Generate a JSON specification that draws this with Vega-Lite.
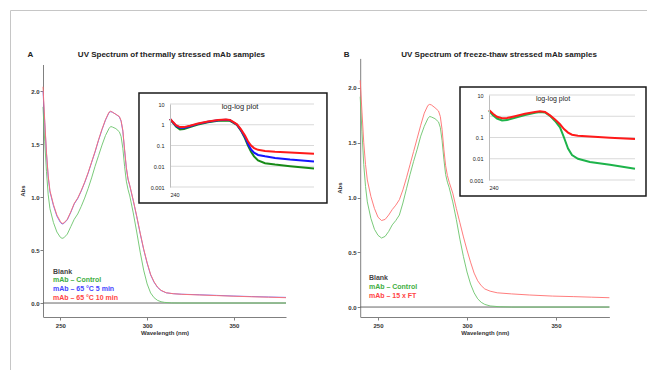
{
"$schema":"https://vega.github.io/schema/vega-lite/v6.json",
"width":637,"height":360,
"autosize":{"type":"none"},
"padding":{"left":10,"top":10,"right":0,"bottom":0},
"background":"white",
"config":{"view":{"stroke":"#c6c6c6","strokeWidth":1},"font":"Liberation Sans"},
"datasets":{
"mainA":[
{"s":"Blank","w":240,"a":0},{"s":"Blank","w":380,"a":0},
{"s":"Control","w":240,"a":1.85},{"s":"Control","w":241,"a":1.52},{"s":"Control","w":242,"a":1.24},{"s":"Control","w":243,"a":1.02},{"s":"Control","w":244,"a":0.89},{"s":"Control","w":246,"a":0.76},{"s":"Control","w":248,"a":0.67},{"s":"Control","w":250,"a":0.62},{"s":"Control","w":251,"a":0.61},{"s":"Control","w":252,"a":0.615},{"s":"Control","w":254,"a":0.65},{"s":"Control","w":256,"a":0.72},{"s":"Control","w":258,"a":0.79},{"s":"Control","w":260,"a":0.84},{"s":"Control","w":262,"a":0.91},{"s":"Control","w":264,"a":0.99},{"s":"Control","w":266,"a":1.08},{"s":"Control","w":268,"a":1.18},{"s":"Control","w":270,"a":1.29},{"s":"Control","w":272,"a":1.39},{"s":"Control","w":274,"a":1.49},{"s":"Control","w":276,"a":1.58},{"s":"Control","w":278,"a":1.645},{"s":"Control","w":279,"a":1.665},{"s":"Control","w":280,"a":1.66},{"s":"Control","w":282,"a":1.645},{"s":"Control","w":284,"a":1.615},{"s":"Control","w":285,"a":1.57},{"s":"Control","w":286,"a":1.46},{"s":"Control","w":287,"a":1.29},{"s":"Control","w":288,"a":1.15},{"s":"Control","w":289,"a":1.07},{"s":"Control","w":290,"a":1.01},{"s":"Control","w":292,"a":0.85},{"s":"Control","w":294,"a":0.67},{"s":"Control","w":296,"a":0.48},{"s":"Control","w":298,"a":0.31},{"s":"Control","w":300,"a":0.18},{"s":"Control","w":302,"a":0.095},{"s":"Control","w":304,"a":0.05},{"s":"Control","w":306,"a":0.025},{"s":"Control","w":308,"a":0.012},{"s":"Control","w":310,"a":0.006},{"s":"Control","w":314,"a":0.001},{"s":"Control","w":320,"a":0},{"s":"Control","w":380,"a":0},
{"s":"5min","w":240,"a":2.0},{"s":"5min","w":241,"a":1.7},{"s":"5min","w":242,"a":1.41},{"s":"5min","w":243,"a":1.19},{"s":"5min","w":244,"a":1.05},{"s":"5min","w":246,"a":0.92},{"s":"5min","w":248,"a":0.82},{"s":"5min","w":250,"a":0.76},{"s":"5min","w":251,"a":0.745},{"s":"5min","w":252,"a":0.75},{"s":"5min","w":254,"a":0.785},{"s":"5min","w":256,"a":0.855},{"s":"5min","w":258,"a":0.935},{"s":"5min","w":260,"a":0.985},{"s":"5min","w":262,"a":1.055},{"s":"5min","w":264,"a":1.135},{"s":"5min","w":266,"a":1.225},{"s":"5min","w":268,"a":1.325},{"s":"5min","w":270,"a":1.425},{"s":"5min","w":272,"a":1.535},{"s":"5min","w":274,"a":1.635},{"s":"5min","w":276,"a":1.725},{"s":"5min","w":278,"a":1.795},{"s":"5min","w":279,"a":1.805},{"s":"5min","w":280,"a":1.8},{"s":"5min","w":282,"a":1.78},{"s":"5min","w":284,"a":1.755},{"s":"5min","w":285,"a":1.715},{"s":"5min","w":286,"a":1.62},{"s":"5min","w":287,"a":1.44},{"s":"5min","w":288,"a":1.275},{"s":"5min","w":289,"a":1.165},{"s":"5min","w":290,"a":1.105},{"s":"5min","w":292,"a":0.965},{"s":"5min","w":294,"a":0.815},{"s":"5min","w":296,"a":0.655},{"s":"5min","w":298,"a":0.505},{"s":"5min","w":300,"a":0.375},{"s":"5min","w":302,"a":0.265},{"s":"5min","w":304,"a":0.195},{"s":"5min","w":306,"a":0.147},{"s":"5min","w":308,"a":0.118},{"s":"5min","w":311,"a":0.096},{"s":"5min","w":315,"a":0.088},{"s":"5min","w":320,"a":0.083},{"s":"5min","w":330,"a":0.078},{"s":"5min","w":340,"a":0.072},{"s":"5min","w":350,"a":0.066},{"s":"5min","w":360,"a":0.061},{"s":"5min","w":370,"a":0.057},{"s":"5min","w":380,"a":0.053},
{"s":"10min","w":240,"a":2.04},{"s":"10min","w":241,"a":1.72},{"s":"10min","w":242,"a":1.42},{"s":"10min","w":243,"a":1.2},{"s":"10min","w":244,"a":1.06},{"s":"10min","w":246,"a":0.93},{"s":"10min","w":248,"a":0.83},{"s":"10min","w":250,"a":0.77},{"s":"10min","w":251,"a":0.75},{"s":"10min","w":252,"a":0.755},{"s":"10min","w":254,"a":0.79},{"s":"10min","w":256,"a":0.86},{"s":"10min","w":258,"a":0.94},{"s":"10min","w":260,"a":0.99},{"s":"10min","w":262,"a":1.06},{"s":"10min","w":264,"a":1.14},{"s":"10min","w":266,"a":1.23},{"s":"10min","w":268,"a":1.33},{"s":"10min","w":270,"a":1.43},{"s":"10min","w":272,"a":1.54},{"s":"10min","w":274,"a":1.64},{"s":"10min","w":276,"a":1.73},{"s":"10min","w":278,"a":1.8},{"s":"10min","w":279,"a":1.81},{"s":"10min","w":280,"a":1.8},{"s":"10min","w":282,"a":1.78},{"s":"10min","w":284,"a":1.76},{"s":"10min","w":285,"a":1.72},{"s":"10min","w":286,"a":1.63},{"s":"10min","w":287,"a":1.45},{"s":"10min","w":288,"a":1.28},{"s":"10min","w":289,"a":1.17},{"s":"10min","w":290,"a":1.11},{"s":"10min","w":292,"a":0.97},{"s":"10min","w":294,"a":0.82},{"s":"10min","w":296,"a":0.66},{"s":"10min","w":298,"a":0.51},{"s":"10min","w":300,"a":0.38},{"s":"10min","w":302,"a":0.27},{"s":"10min","w":304,"a":0.2},{"s":"10min","w":306,"a":0.15},{"s":"10min","w":308,"a":0.12},{"s":"10min","w":311,"a":0.097},{"s":"10min","w":315,"a":0.088},{"s":"10min","w":320,"a":0.082},{"s":"10min","w":330,"a":0.076},{"s":"10min","w":340,"a":0.07},{"s":"10min","w":350,"a":0.064},{"s":"10min","w":360,"a":0.059},{"s":"10min","w":370,"a":0.055},{"s":"10min","w":380,"a":0.05}
],
"mainB":[
{"s":"Blank","w":240,"a":0},{"s":"Blank","w":380,"a":0},
{"s":"Control","w":240,"a":1.92},{"s":"Control","w":241,"a":1.6},{"s":"Control","w":242,"a":1.3},{"s":"Control","w":243,"a":1.1},{"s":"Control","w":244,"a":0.96},{"s":"Control","w":246,"a":0.81},{"s":"Control","w":248,"a":0.71},{"s":"Control","w":250,"a":0.655},{"s":"Control","w":252,"a":0.63},{"s":"Control","w":254,"a":0.645},{"s":"Control","w":256,"a":0.69},{"s":"Control","w":258,"a":0.75},{"s":"Control","w":260,"a":0.79},{"s":"Control","w":262,"a":0.84},{"s":"Control","w":264,"a":0.95},{"s":"Control","w":266,"a":1.08},{"s":"Control","w":268,"a":1.21},{"s":"Control","w":270,"a":1.33},{"s":"Control","w":272,"a":1.44},{"s":"Control","w":274,"a":1.56},{"s":"Control","w":276,"a":1.65},{"s":"Control","w":278,"a":1.72},{"s":"Control","w":279,"a":1.74},{"s":"Control","w":280,"a":1.735},{"s":"Control","w":282,"a":1.72},{"s":"Control","w":284,"a":1.69},{"s":"Control","w":285,"a":1.64},{"s":"Control","w":286,"a":1.52},{"s":"Control","w":287,"a":1.35},{"s":"Control","w":288,"a":1.21},{"s":"Control","w":289,"a":1.14},{"s":"Control","w":290,"a":1.09},{"s":"Control","w":292,"a":0.96},{"s":"Control","w":294,"a":0.8},{"s":"Control","w":296,"a":0.62},{"s":"Control","w":298,"a":0.46},{"s":"Control","w":300,"a":0.32},{"s":"Control","w":302,"a":0.21},{"s":"Control","w":304,"a":0.13},{"s":"Control","w":306,"a":0.075},{"s":"Control","w":308,"a":0.043},{"s":"Control","w":310,"a":0.024},{"s":"Control","w":313,"a":0.01},{"s":"Control","w":318,"a":0.003},{"s":"Control","w":325,"a":0},{"s":"Control","w":380,"a":0},
{"s":"FT","w":240,"a":2.07},{"s":"FT","w":241,"a":1.78},{"s":"FT","w":242,"a":1.5},{"s":"FT","w":243,"a":1.3},{"s":"FT","w":244,"a":1.16},{"s":"FT","w":246,"a":1.01},{"s":"FT","w":248,"a":0.9},{"s":"FT","w":250,"a":0.82},{"s":"FT","w":252,"a":0.79},{"s":"FT","w":254,"a":0.8},{"s":"FT","w":256,"a":0.84},{"s":"FT","w":258,"a":0.89},{"s":"FT","w":260,"a":0.93},{"s":"FT","w":262,"a":0.98},{"s":"FT","w":264,"a":1.07},{"s":"FT","w":266,"a":1.18},{"s":"FT","w":268,"a":1.3},{"s":"FT","w":270,"a":1.42},{"s":"FT","w":272,"a":1.54},{"s":"FT","w":274,"a":1.66},{"s":"FT","w":276,"a":1.77},{"s":"FT","w":278,"a":1.84},{"s":"FT","w":279,"a":1.85},{"s":"FT","w":280,"a":1.845},{"s":"FT","w":282,"a":1.82},{"s":"FT","w":284,"a":1.79},{"s":"FT","w":285,"a":1.74},{"s":"FT","w":286,"a":1.62},{"s":"FT","w":287,"a":1.44},{"s":"FT","w":288,"a":1.29},{"s":"FT","w":289,"a":1.2},{"s":"FT","w":290,"a":1.14},{"s":"FT","w":292,"a":1.04},{"s":"FT","w":294,"a":0.9},{"s":"FT","w":296,"a":0.77},{"s":"FT","w":298,"a":0.64},{"s":"FT","w":300,"a":0.52},{"s":"FT","w":302,"a":0.41},{"s":"FT","w":304,"a":0.31},{"s":"FT","w":306,"a":0.24},{"s":"FT","w":308,"a":0.195},{"s":"FT","w":310,"a":0.165},{"s":"FT","w":313,"a":0.145},{"s":"FT","w":317,"a":0.13},{"s":"FT","w":325,"a":0.12},{"s":"FT","w":335,"a":0.11},{"s":"FT","w":348,"a":0.1},{"s":"FT","w":360,"a":0.095},{"s":"FT","w":370,"a":0.09},{"s":"FT","w":380,"a":0.085}
],
"insetA":[
{"s":"Control","w":240,"a":1.85},{"s":"Control","w":242.9,"a":1.25},{"s":"Control","w":245.8,"a":0.82},{"s":"Control","w":249.7,"a":0.6},{"s":"Control","w":253.6,"a":0.62},{"s":"Control","w":259.4,"a":0.78},{"s":"Control","w":267.2,"a":1.02},{"s":"Control","w":276.9,"a":1.3},{"s":"Control","w":286.7,"a":1.55},{"s":"Control","w":294.4,"a":1.62},{"s":"Control","w":298.3,"a":1.55},{"s":"Control","w":302.2,"a":1.2},{"s":"Control","w":305.1,"a":0.98},{"s":"Control","w":309,"a":0.52},{"s":"Control","w":312.9,"a":0.22},{"s":"Control","w":315.8,"a":0.1},{"s":"Control","w":318.8,"a":0.05},{"s":"Control","w":321.7,"a":0.03},{"s":"Control","w":325.6,"a":0.019},{"s":"Control","w":332.4,"a":0.014},{"s":"Control","w":342.1,"a":0.012},{"s":"Control","w":356.7,"a":0.01},{"s":"Control","w":380,"a":0.0078},
{"s":"5min","w":240,"a":1.92},{"s":"5min","w":242.9,"a":1.3},{"s":"5min","w":245.8,"a":0.9},{"s":"5min","w":249.7,"a":0.72},{"s":"5min","w":253.6,"a":0.72},{"s":"5min","w":259.4,"a":0.85},{"s":"5min","w":267.2,"a":1.1},{"s":"5min","w":276.9,"a":1.4},{"s":"5min","w":286.7,"a":1.65},{"s":"5min","w":294.4,"a":1.75},{"s":"5min","w":298.3,"a":1.65},{"s":"5min","w":302.2,"a":1.25},{"s":"5min","w":305.1,"a":1.0},{"s":"5min","w":309,"a":0.55},{"s":"5min","w":312.9,"a":0.26},{"s":"5min","w":315.8,"a":0.12},{"s":"5min","w":318.8,"a":0.065},{"s":"5min","w":321.7,"a":0.045},{"s":"5min","w":325.6,"a":0.035},{"s":"5min","w":332.4,"a":0.03},{"s":"5min","w":342.1,"a":0.025},{"s":"5min","w":356.7,"a":0.021},{"s":"5min","w":380,"a":0.017},
{"s":"10min","w":240,"a":1.95},{"s":"10min","w":242.9,"a":1.35},{"s":"10min","w":245.8,"a":0.95},{"s":"10min","w":249.7,"a":0.77},{"s":"10min","w":253.6,"a":0.77},{"s":"10min","w":259.4,"a":0.9},{"s":"10min","w":267.2,"a":1.15},{"s":"10min","w":276.9,"a":1.45},{"s":"10min","w":286.7,"a":1.7},{"s":"10min","w":294.4,"a":1.8},{"s":"10min","w":298.3,"a":1.7},{"s":"10min","w":302.2,"a":1.3},{"s":"10min","w":305.1,"a":1.05},{"s":"10min","w":309,"a":0.6},{"s":"10min","w":312.9,"a":0.3},{"s":"10min","w":315.8,"a":0.16},{"s":"10min","w":318.8,"a":0.1},{"s":"10min","w":321.7,"a":0.075},{"s":"10min","w":325.6,"a":0.062},{"s":"10min","w":332.4,"a":0.055},{"s":"10min","w":342.1,"a":0.05},{"s":"10min","w":356.7,"a":0.046},{"s":"10min","w":380,"a":0.04}
],
"insetB":[
{"s":"Control","w":240,"a":1.8},{"s":"Control","w":243.8,"a":1.1},{"s":"Control","w":247.7,"a":0.78},{"s":"Control","w":252.5,"a":0.63},{"s":"Control","w":257.3,"a":0.66},{"s":"Control","w":264.9,"a":0.85},{"s":"Control","w":274.5,"a":1.15},{"s":"Control","w":284.1,"a":1.45},{"s":"Control","w":288.9,"a":1.58},{"s":"Control","w":293.7,"a":1.5},{"s":"Control","w":298.5,"a":1.05},{"s":"Control","w":303.3,"a":0.6},{"s":"Control","w":308.1,"a":0.3},{"s":"Control","w":311.9,"a":0.1},{"s":"Control","w":315.8,"a":0.03},{"s":"Control","w":319.6,"a":0.015},{"s":"Control","w":325.3,"a":0.01},{"s":"Control","w":336.8,"a":0.007},{"s":"Control","w":356,"a":0.0052},{"s":"Control","w":380,"a":0.0034},
{"s":"FT","w":240,"a":2.0},{"s":"FT","w":243.8,"a":1.3},{"s":"FT","w":247.7,"a":0.95},{"s":"FT","w":252.5,"a":0.8},{"s":"FT","w":257.3,"a":0.82},{"s":"FT","w":264.9,"a":1.0},{"s":"FT","w":274.5,"a":1.3},{"s":"FT","w":284.1,"a":1.6},{"s":"FT","w":288.9,"a":1.72},{"s":"FT","w":293.7,"a":1.6},{"s":"FT","w":298.5,"a":1.1},{"s":"FT","w":303.3,"a":0.7},{"s":"FT","w":308.1,"a":0.42},{"s":"FT","w":311.9,"a":0.25},{"s":"FT","w":315.8,"a":0.17},{"s":"FT","w":319.6,"a":0.135},{"s":"FT","w":325.3,"a":0.12},{"s":"FT","w":336.8,"a":0.11},{"s":"FT","w":356,"a":0.097},{"s":"FT","w":380,"a":0.086}
],
"grid":[{"g":10},{"g":1},{"g":0.1},{"g":0.01},{"g":0.001}]
},
"resolve":{"scale":{"x":"independent","y":"independent","color":"independent"},"axis":{"x":"independent","y":"independent"}},
"layer":[
{"layer":[
 {"data":{"name":"mainA"},"mark":{"type":"line","strokeWidth":1,"strokeOpacity":0.9},
  "encoding":{
   "x":{"field":"w","type":"quantitative","scale":{"domain":[240,380],"range":[33,276],"nice":false,"zero":false},
        "axis":{"orient":"bottom","offset":-53,"values":[250,300,350],"title":"Wavelength (nm)","grid":false,"domainColor":"#808080","tickColor":"#808080","tickSize":3,"labelFontSize":6,"labelFontWeight":"bold","labelColor":"#333","labelPadding":2,"titleFontSize":6,"titleFontWeight":"bold","titleColor":"#333","titlePadding":1}},
   "y":{"field":"a","type":"quantitative","scale":{"domain":[-0.13,2.25],"range":[306.8,54.5],"nice":false,"zero":false},
        "axis":{"orient":"left","offset":-33,"values":[0,0.5,1,1.5,2],"format":".1f","title":"Abs","grid":false,"domainColor":"#808080","tickColor":"#808080","tickSize":3,"labelFontSize":6,"labelFontWeight":"bold","labelColor":"#333","labelPadding":1,"titleFontSize":6,"titleFontWeight":"bold","titleColor":"#333","titlePadding":5}},
   "color":{"field":"s","type":"nominal","scale":{"domain":["Blank","Control","5min","10min"],"range":["#555555","#6cc46c","#6a6aff","#ff6f6f"]},"legend":null}}},
 {"data":{"values":[{}]},"mark":{"type":"rect","fill":"white","stroke":"#1a1a1a","strokeWidth":1.5},
  "encoding":{"x":{"datum":295.3,"type":"quantitative"},"x2":{"datum":403.6},"y":{"datum":1.981,"type":"quantitative"},"y2":{"datum":0.943}}},
 {"data":{"values":[{}]},"mark":{"type":"text","align":"left","baseline":"middle","fontSize":7,"fontWeight":"bold","color":"#444444"},
  "encoding":{"x":{"datum":245.76,"type":"quantitative"},"y":{"datum":0.295,"type":"quantitative"},"text":{"value":"Blank"}}},
 {"data":{"values":[{}]},"mark":{"type":"text","align":"left","baseline":"middle","fontSize":7,"fontWeight":"bold","color":"#3fae3f"},
  "encoding":{"x":{"datum":245.76,"type":"quantitative"},"y":{"datum":0.214,"type":"quantitative"},"text":{"value":"mAb – Control"}}},
 {"data":{"values":[{}]},"mark":{"type":"text","align":"left","baseline":"middle","fontSize":7,"fontWeight":"bold","color":"#4747ff"},
  "encoding":{"x":{"datum":245.76,"type":"quantitative"},"y":{"datum":0.132,"type":"quantitative"},"text":{"value":"mAb – 65 °C 5 min"}}},
 {"data":{"values":[{}]},"mark":{"type":"text","align":"left","baseline":"middle","fontSize":7,"fontWeight":"bold","color":"#ff4545"},
  "encoding":{"x":{"datum":245.76,"type":"quantitative"},"y":{"datum":0.05,"type":"quantitative"},"text":{"value":"mAb – 65 °C 10 min"}}},
 {"data":{"values":[{}]},"mark":{"type":"text","align":"center","baseline":"middle","fontSize":8,"fontWeight":"bold","color":"#222222"},
  "encoding":{"x":{"datum":232.8,"type":"quantitative"},"y":{"datum":2.34,"type":"quantitative"},"text":{"value":"A"}}},
 {"data":{"values":[{}]},"mark":{"type":"text","align":"center","baseline":"middle","fontSize":8,"fontWeight":"bold","color":"#222222"},
  "encoding":{"x":{"datum":314.0,"type":"quantitative"},"y":{"datum":2.34,"type":"quantitative"},"text":{"value":"UV Spectrum of thermally stressed mAb samples"}}}
]},
{"layer":[
 {"data":{"name":"grid"},"mark":{"type":"rule","color":"#d9d9d9","strokeWidth":1},
  "encoding":{"x":{"datum":240,"type":"quantitative","scale":{"domain":[240,380],"range":[160,304],"nice":false,"zero":false}},"x2":{"datum":380},"y":{"field":"g","type":"quantitative","scale":{"type":"log","domain":[0.001,10],"range":[177,94],"nice":false}}}},
 {"data":{"name":"insetA"},"mark":{"type":"line","strokeWidth":2},
  "encoding":{
   "x":{"field":"w","type":"quantitative","scale":{"domain":[240,380],"range":[160,304],"nice":false,"zero":false},
        "axis":{"orient":"bottom","offset":-183,"values":[240],"format":"d","title":null,"domain":false,"ticks":false,"grid":false,"labelFontSize":5.5,"labelColor":"#222","labelPadding":5,"zindex":2}},
   "y":{"field":"a","type":"quantitative","scale":{"type":"log","domain":[0.001,10],"range":[177,94],"nice":false},
        "axis":{"orient":"left","offset":-160,"values":[10,1,0.1,0.01,0.001],"format":"~g","title":null,"ticks":false,"grid":false,"domainColor":"#bdbdbd","labelFontSize":5.5,"labelColor":"#222","labelPadding":6,"zindex":2}},
   "color":{"field":"s","type":"nominal","scale":{"domain":["Control","5min","10min"],"range":["#178a17","#1515ff","#ff1a1a"]},"legend":null}}},
 {"data":{"values":[{}]},"mark":{"type":"text","align":"center","baseline":"middle","fontSize":7.5,"color":"#222222"},
  "encoding":{"x":{"datum":308.1,"type":"quantitative"},"y":{"datum":7.17,"type":"quantitative"},"text":{"value":"log-log plot"}}}
]},
{"layer":[
 {"data":{"name":"mainB"},"mark":{"type":"line","strokeWidth":1,"strokeOpacity":0.9},
  "encoding":{
   "x":{"field":"w","type":"quantitative","scale":{"domain":[240,380],"range":[350.2,599.4],"nice":false,"zero":false},
        "axis":{"orient":"bottom","offset":-53,"values":[250,300,350],"title":"Wavelength (nm)","grid":false,"domainColor":"#808080","tickColor":"#808080","tickSize":3,"labelFontSize":6,"labelFontWeight":"bold","labelColor":"#333","labelPadding":2,"titleFontSize":6,"titleFontWeight":"bold","titleColor":"#333","titlePadding":1}},
   "y":{"field":"a","type":"quantitative","scale":{"domain":[-0.09,2.27],"range":[306.9,48.4],"nice":false,"zero":false},
        "axis":{"orient":"left","offset":-350.2,"values":[0,0.5,1,1.5,2],"format":".1f","title":"Abs","grid":false,"domainColor":"#808080","tickColor":"#808080","tickSize":3,"labelFontSize":6,"labelFontWeight":"bold","labelColor":"#333","labelPadding":1,"titleFontSize":6,"titleFontWeight":"bold","titleColor":"#333","titlePadding":5}},
   "color":{"field":"s","type":"nominal","scale":{"domain":["Blank","Control","FT"],"range":["#555555","#6cc46c","#ff6f6f"]},"legend":null}}},
 {"data":{"values":[{}]},"mark":{"type":"rect","fill":"white","stroke":"#1a1a1a","strokeWidth":1.5},
  "encoding":{"x":{"datum":296.07,"type":"quantitative"},"x2":{"datum":400.56},"y":{"datum":2.009,"type":"quantitative"},"y2":{"datum":1.014}}},
 {"data":{"values":[{}]},"mark":{"type":"text","align":"left","baseline":"middle","fontSize":7,"fontWeight":"bold","color":"#444444"},
  "encoding":{"x":{"datum":244.9,"type":"quantitative"},"y":{"datum":0.268,"type":"quantitative"},"text":{"value":"Blank"}}},
 {"data":{"values":[{}]},"mark":{"type":"text","align":"left","baseline":"middle","fontSize":7,"fontWeight":"bold","color":"#3fae3f"},
  "encoding":{"x":{"datum":244.9,"type":"quantitative"},"y":{"datum":0.185,"type":"quantitative"},"text":{"value":"mAb – Control"}}},
 {"data":{"values":[{}]},"mark":{"type":"text","align":"left","baseline":"middle","fontSize":7,"fontWeight":"bold","color":"#ff4545"},
  "encoding":{"x":{"datum":244.9,"type":"quantitative"},"y":{"datum":0.103,"type":"quantitative"},"text":{"value":"mAb – 15 x FT"}}},
 {"data":{"values":[{}]},"mark":{"type":"text","align":"center","baseline":"middle","fontSize":8,"fontWeight":"bold","color":"#222222"},
  "encoding":{"x":{"datum":232.4,"type":"quantitative"},"y":{"datum":2.3,"type":"quantitative"},"text":{"value":"B"}}},
 {"data":{"values":[{}]},"mark":{"type":"text","align":"center","baseline":"middle","fontSize":8,"fontWeight":"bold","color":"#222222"},
  "encoding":{"x":{"datum":318.0,"type":"quantitative"},"y":{"datum":2.3,"type":"quantitative"},"text":{"value":"UV Spectrum of freeze-thaw stressed mAb samples"}}}
]},
{"layer":[
 {"data":{"name":"grid"},"mark":{"type":"rule","color":"#d9d9d9","strokeWidth":1},
  "encoding":{"x":{"datum":240,"type":"quantitative","scale":{"domain":[240,380],"range":[479,625],"nice":false,"zero":false}},"x2":{"datum":380},"y":{"field":"g","type":"quantitative","scale":{"type":"log","domain":[0.001,10],"range":[170,85],"nice":false}}}},
 {"data":{"name":"insetB"},"mark":{"type":"line","strokeWidth":2},
  "encoding":{
   "x":{"field":"w","type":"quantitative","scale":{"domain":[240,380],"range":[479,625],"nice":false,"zero":false},
        "axis":{"orient":"bottom","offset":-190,"values":[240],"format":"d","title":null,"domain":false,"ticks":false,"grid":false,"labelFontSize":5.5,"labelColor":"#222","labelPadding":5,"zindex":2}},
   "y":{"field":"a","type":"quantitative","scale":{"type":"log","domain":[0.001,10],"range":[170,85],"nice":false},
        "axis":{"orient":"left","offset":-479,"values":[10,1,0.1,0.01,0.001],"format":"~g","title":null,"ticks":false,"grid":false,"domainColor":"#bdbdbd","labelFontSize":5.5,"labelColor":"#222","labelPadding":6,"zindex":2}},
   "color":{"field":"s","type":"nominal","scale":{"domain":["Control","FT"],"range":["#1db34a","#ff1a1a"]},"legend":null}}},
 {"data":{"values":[{}]},"mark":{"type":"text","align":"center","baseline":"middle","fontSize":7,"color":"#222222"},
  "encoding":{"x":{"datum":301.4,"type":"quantitative"},"y":{"datum":6.49,"type":"quantitative"},"text":{"value":"log-log plot"}}}
]}
]
}
